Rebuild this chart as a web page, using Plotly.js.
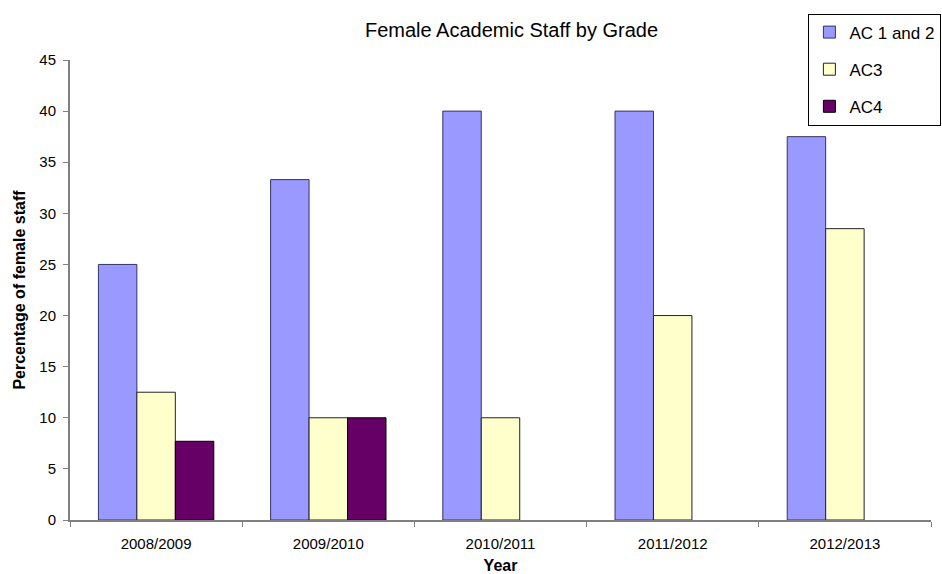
<!DOCTYPE html>
<html><head><meta charset="utf-8">
<script src="https://cdn.plot.ly/plotly-3.0.1.min.js"></script>
<style>body{margin:0;background:#fff}#chart{width:942px;height:574px}</style>
</head><body><div id="chart"></div>
<script>
const years = ["2008/2009","2009/2010","2010/2011","2011/2012","2012/2013"];
const ac12 = [25, 33.3, 40, 40, 37.5];
const ac3 = [12.5, 10, 10, 20, 28.5];
const ac4 = [7.7, 10, null, null, null];
const seriesNames = ["AC 1 and 2", "AC3", "AC4"];

const mk = (name, y, fill, line, g) => ({
  type: 'bar', name: name, x: years, y: y, legendgroup: g,
  marker: {color: fill, line: {color: line, width: 1}}
});
const data = [
  mk(seriesNames[0], ac12, '#9999FF', '#333366', 'a'),
  mk(seriesNames[1], ac3, '#FFFFCC', '#222222', 'b'),
  mk(seriesNames[2], ac4, '#660066', '#000000', 'c')
];
const layout = {
  width: 942, height: 574,
  margin: {l: 70, r: 1, t: 60, b: 54},
  paper_bgcolor: '#fff', plot_bgcolor: '#fff',
  font: {family: 'Liberation Sans, Arial, sans-serif', color: '#000', size: 15},
  title: {text: 'Female Academic Staff by Grade', x: 0.543, xanchor: 'center', y: 0.948, yanchor: 'middle', font: {size: 20}},
  barmode: 'group', bargap: 0.33, bargroupgap: 0,
  xaxis: {
    title: {text: '<b>Year</b>', font: {size: 16}, standoff: 9},
    showline: true, linecolor: '#808080', linewidth: 2,
    ticks: 'outside', tickson: 'boundaries', ticklen: 5, tickcolor: '#808080',
    ticklabelstandoff: 9,
    showgrid: false, zeroline: false
  },
  yaxis: {
    title: {text: '<b>Percentage of female staff</b>', font: {size: 16}, standoff: 10},
    range: [0, 45], dtick: 5, showline: true, linecolor: '#808080', linewidth: 2,
    ticks: 'outside', ticklen: 5, tickcolor: '#808080', ticklabelstandoff: 4,
    showgrid: false, zeroline: false
  },
  legend: {
    x: 0.8576, y: 1.101, xanchor: 'left', yanchor: 'top',
    bordercolor: '#000', borderwidth: 1, bgcolor: '#fff',
    font: {size: 17}, traceorder: 'grouped', tracegroupgap: 12
  },
  showlegend: true
};
Plotly.newPlot('chart', data, layout, {displayModeBar: false, staticPlot: true});
</script></body></html>
